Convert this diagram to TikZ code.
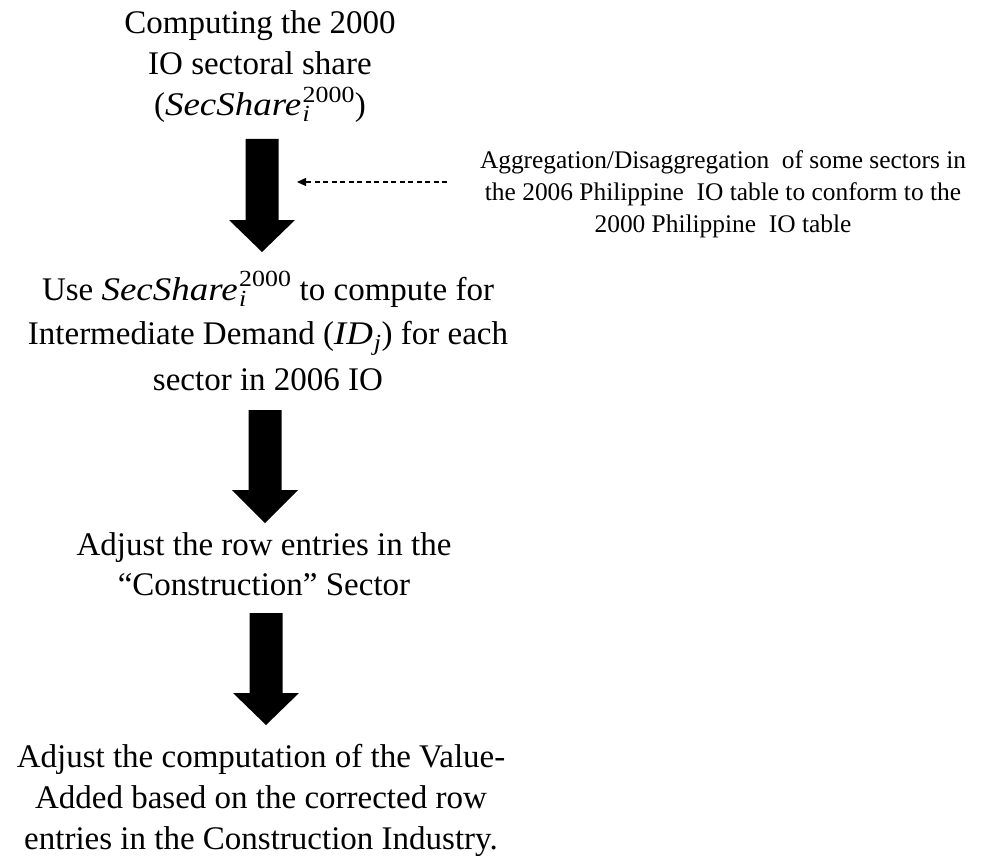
\documentclass[tikz,border=0pt]{standalone}
\usepackage{fontspec}
\usepackage{amsmath}
\usetikzlibrary{arrows.meta}
\setmainfont{Liberation Serif}
\newfontfamily\mathfnt{Liberation Serif}[FakeStretch=1.12]
\newcommand{\ssh}{\ensuremath{\text{\mathfnt\itshape SecShare\/\kern1.5pt}_{\text{\mathfnt\itshape i}}^{\text{\mathfnt 2000}}}}
\newcommand{\idj}{\ensuremath{\text{\mathfnt\itshape ID\/\kern1pt}_{\text{\mathfnt\itshape j}}}}
\tikzset{
  mainblock/.style={inner sep=0pt, anchor=base, font=\fontsize{33}{40}\selectfont},
  noteblock/.style={inner sep=0pt, anchor=base, font=\fontsize{25.4}{31.5}\selectfont},
  blockarrow/.style={fill=black, draw=none},
  dashlink/.style={line width=1.2pt, dash pattern=on 5pt off 3.5pt, -{Triangle[length=9pt,width=8pt]}}
}
\newcommand{\barrow}[5]{% name, cx, top, headstart, tip
  \coordinate (#1-top) at (#2,#3);
  \coordinate (#1-tip) at (#2,#5);
  \fill[blockarrow] (#2-16.5,#3) -- (#2+16.5,#3) -- (#2+16.5,#4) -- (#2+33,#4)
     -- (#1-tip) -- (#2-33,#4) -- (#2-16.5,#4) -- cycle;
}
\begin{document}
\begin{tikzpicture}[x=1pt,y=-1pt]
\useasboundingbox (0,0) rectangle (983,856);
\fill[white] (0,0) rectangle (983,856);

\node[mainblock] (b1) at (260,34) {\begin{tabular}[t]{@{}c@{}}Computing the 2000\\[1pt] IO sectoral share\\ (\ssh)\end{tabular}};

\barrow{a1}{262}{139}{220}{252}

\node[noteblock] (note) at (723,169) {\begin{tabular}[t]{@{}c@{}}Aggregation/Disaggregation\ \ of some sectors in\\ the 2006 Philippine\ \ IO table to conform to the\\ 2000 Philippine\ \ IO table\end{tabular}};
\coordinate (dstart) at (447,182);
\coordinate (dend) at (297,182);
\draw[dashlink] (dstart) -- (dend);

\node[mainblock] (b2) at (268,300) {\begin{tabular}[t]{@{}c@{}}Use \ssh\ to compute for\\[4pt] Intermediate Demand (\idj) for each\\[6pt] sector in 2006 IO\end{tabular}};

\barrow{a2}{265}{410}{490}{523}

\node[mainblock] (b3) at (264,555) {\begin{tabular}[t]{@{}c@{}}Adjust the row entries in the\\ ``Construction'' Sector\end{tabular}};

\barrow{a3}{266}{613}{693}{725}

\node[mainblock] (b4) at (261,767) {\begin{tabular}[t]{@{}c@{}}Adjust the computation of the Value-\\[1pt] Added based on the corrected row\\[1pt] entries in the Construction Industry.\end{tabular}};

\end{tikzpicture}
\end{document}
